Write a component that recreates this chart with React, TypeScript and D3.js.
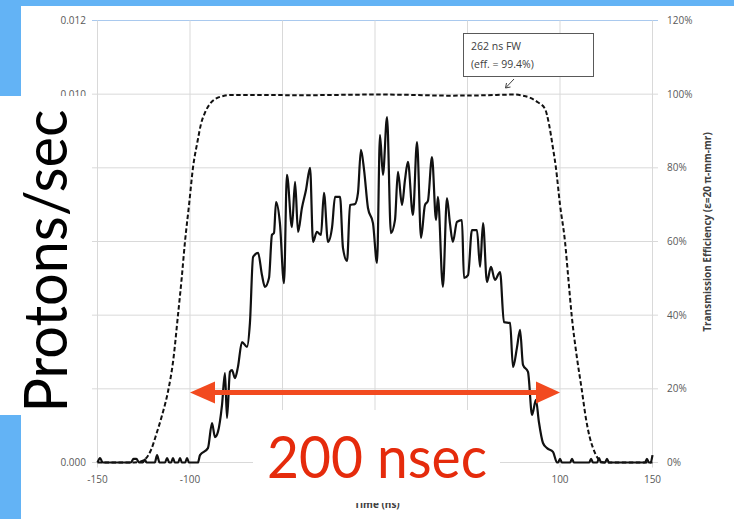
import React, { useEffect, useRef } from 'react';
import * as d3 from 'd3';

const leftTicks = [0, 0.002, 0.004, 0.006, 0.008, 0.01, 0.012];
const rightTicks = [0, 20, 40, 60, 80, 100, 120];
const timeTicks = [-150, -100, -50, 0, 50, 100, 150];
// tick labels that the slide's white boxes leave visible
const leftLabels = [0, 0.01, 0.012];
const timeLabels = [-150, -100, 100, 150];

// transmission efficiency in %, dashed curve
const efficiency: [number, number][] = [
  [-150, 0], [-130, 0], [-127, 0.2], [-124, 1], [-121, 3.5], [-118, 8], [-115, 13], [-112, 19],
  [-109, 28], [-106.5, 40], [-104.5, 50], [-102.7, 60], [-100.5, 70], [-98.4, 80], [-96, 87],
  [-94, 92], [-91.9, 95], [-89, 97.5], [-86, 98.8], [-82, 99.5], [-78, 99.8], [-60, 99.8],
  [-40, 99.7], [-20, 99.8], [0, 99.9], [20, 99.8], [40, 99.6], [60, 99.7], [75, 99.9], [80, 99.6],
  [84, 99], [88, 97.8], [91.9, 96], [94, 92], [96, 86], [97.8, 80], [100, 70], [102.7, 60],
  [104.5, 50], [106.3, 40], [109, 29], [111.7, 20], [114, 12], [116, 7], [117.8, 4], [120, 1.5],
  [122, 0.3], [124, 0], [150, 0],
];

// protons/sec signal, solid curve
const protons: [number, number][] = [
  [-150, 0], [-148.6, 0.00012], [-147.2, 0], [-132, 0], [-130.5, 0.0001], [-129, 0.0001], [-127.5, 0],
  [-125.5, 0], [-124.5, 0.00008], [-123.5, 0], [-119, 0], [-117.8, 0.0002], [-116.5, 0], [-113.5, 0],
  [-112.4, 0.00012], [-111.2, 0], [-110.2, 0], [-109.2, 0.00012], [-108.2, 0], [-106.4, 0],
  [-105.4, 0.00012], [-104.4, 0], [-102.6, 0], [-101.6, 0.00012], [-100.6, 0], [-95.7, 0],
  [-94.6, 0.0002], [-90.3, 0.00039], [-88.1, 0.00107], [-86.5, 0.00069], [-84.9, 0.00083],
  [-82.7, 0.00156], [-81.1, 0.00243], [-80.0, 0.00121], [-78.4, 0.00246], [-77.3, 0.00251],
  [-75.7, 0.00229], [-74.1, 0.00259], [-71.9, 0.00327], [-69.2, 0.00314], [-67.6, 0.00379],
  [-65.9, 0.00558], [-63.2, 0.00569], [-61.1, 0.00509], [-59.5, 0.00477], [-57.3, 0.00501],
  [-55.7, 0.00618], [-54.6, 0.00623], [-53.5, 0.00707], [-51.4, 0.0065], [-49.2, 0.00487],
  [-47.6, 0.00781], [-44.9, 0.00639], [-43.2, 0.00762], [-41.6, 0.00626], [-39.5, 0.00691],
  [-37.3, 0.0074], [-35.1, 0.008], [-33.5, 0.00599], [-31.4, 0.00626], [-29.2, 0.00618],
  [-27.6, 0.00732], [-25.4, 0.00599], [-23.2, 0.00639], [-21.6, 0.00721], [-18.9, 0.00721],
  [-17.3, 0.00582], [-15.1, 0.00547], [-13.5, 0.00699], [-10.8, 0.00702], [-9.2, 0.00732],
  [-7.6, 0.00849], [-5.9, 0.00794], [-3.8, 0.00691], [-1.1, 0.0065], [1.1, 0.00542], [2.7, 0.00889],
  [4.3, 0.00781], [6.5, 0.00938], [8.6, 0.00623], [10.8, 0.00658], [12.4, 0.00789], [14.6, 0.00699],
  [16.2, 0.00767], [17.8, 0.00816], [20.5, 0.00672], [22.7, 0.0087], [24.9, 0.0061], [27.0, 0.00699],
  [28.6, 0.0071], [30.8, 0.00829], [33.0, 0.00658], [34.0, 0.00721], [36.7, 0.00477], [38.9, 0.00718],
  [40.5, 0.0065], [42.1, 0.00599], [44.3, 0.00653], [47.0, 0.00658], [48.1, 0.00501], [50.3, 0.00509],
  [52.4, 0.00631], [55.1, 0.00631], [56.8, 0.00531], [58.4, 0.0065], [60.5, 0.0049], [62.7, 0.00531],
  [64.8, 0.00496], [67.6, 0.00517], [69.7, 0.00381], [73.0, 0.00379], [74.6, 0.00259], [76.8, 0.00314],
  [78.4, 0.0036], [80.0, 0.00265], [82.7, 0.00246], [84.9, 0.00129], [87.0, 0.0017], [88.6, 0.0011],
  [90.8, 0.00053], [93.0, 0.00039], [96.2, 0.00029], [98.4, 0], [99, 0], [100, 0.0001], [101, 0],
  [105.5, 0], [106.5, 0.0001], [107.5, 0], [115.8, 0], [116.8, 0.0001], [117.8, 0], [120.1, 0],
  [121.1, 0.00012], [122.1, 0], [124.4, 0], [125.4, 0.0001], [126.4, 0], [146, 0], [147, 0.0001],
  [148, 0], [149, 0], [150, 0.0002],
];

// the red "200 nsec" span marker
const spanStart = -100;
const spanEnd = 100;
const spanLevel = 0.0019;

const W = 734;
const H = 519;

const App: React.FC = () => {
  const svgRef = useRef<SVGSVGElement>(null);

  useEffect(() => {
    if (!svgRef.current) return;
    const svg = d3.select(svgRef.current);
    svg.selectAll('*').remove();

    const x = d3.scaleLinear().domain([-150, 150]).range([97.5, 652.5]);
    const y = d3.scaleLinear().domain([0, 0.012]).range([462.5, 20.5]);
    const yR = d3.scaleLinear().domain([0, 120]).range([462.5, 20.5]);

    const font = 'Open Sans, Liberation Sans, sans-serif';

    // slide background
    svg.append('rect').attr('width', W).attr('height', H).attr('fill', '#63b3f5');
    svg.append('rect').attr('x', 21).attr('y', 6).attr('width', W - 21).attr('height', H - 6).attr('fill', '#fff');

    // gridlines
    const grid = svg.append('g').attr('stroke-width', 1);
    grid.selectAll('line.h')
      .data(leftTicks)
      .join('line')
      .attr('x1', 92).attr('x2', 658)
      .attr('y1', d => y(d)).attr('y2', d => y(d))
      .attr('stroke', d => (d === 0.012 ? '#a9c9ee' : '#d9d9d9'));
    grid.selectAll('line.v')
      .data(timeTicks)
      .join('line')
      .attr('x1', d => x(d)).attr('x2', d => x(d))
      .attr('y1', y(0.012)).attr('y2', y(0) + 5)
      .attr('stroke', '#d9d9d9');

    // axis labels
    svg.append('g').selectAll('text')
      .data(leftLabels)
      .join('text')
      .attr('x', 86).attr('y', d => y(d) + 3.5)
      .attr('text-anchor', 'end')
      .attr('font-family', font).attr('font-size', 10).attr('fill', '#595959')
      .text(d => d3.format('.3f')(d));
    svg.append('g').selectAll('text')
      .data(rightTicks)
      .join('text')
      .attr('x', 667).attr('y', d => yR(d) + 3.5)
      .attr('font-family', font).attr('font-size', 10).attr('fill', '#595959')
      .text(d => `${d}%`);
    svg.append('g').selectAll('text')
      .data(timeLabels)
      .join('text')
      .attr('x', d => x(d)).attr('y', 483)
      .attr('text-anchor', 'middle')
      .attr('font-family', font).attr('font-size', 10).attr('fill', '#595959')
      .text(d => d);

    svg.append('text')
      .attr('transform', 'translate(711,232) rotate(-90)')
      .attr('text-anchor', 'middle')
      .attr('font-family', font).attr('font-size', 10).attr('font-weight', 'bold').attr('fill', '#404040')
      .text('Transmission Efficiency (\u03b5=20 \u03c0-mm-mr)');

    svg.append('text')
      .attr('x', 377).attr('y', 508)
      .attr('text-anchor', 'middle')
      .attr('font-family', font).attr('font-size', 10).attr('font-weight', 'bold').attr('fill', '#404040')
      .text('Time (ns)');

    // curves
    const effLine = d3.line<[number, number]>()
      .x(d => x(d[0])).y(d => yR(d[1]))
      .curve(d3.curveMonotoneX);
    svg.append('path')
      .datum(efficiency)
      .attr('d', effLine)
      .attr('fill', 'none').attr('stroke', '#111').attr('stroke-width', 2)
      .attr('stroke-dasharray', '4.5,2.5');

    const protonLine = d3.line<[number, number]>()
      .x(d => x(d[0])).y(d => y(d[1]))
      .curve(d3.curveMonotoneX);
    svg.append('path')
      .datum(protons)
      .attr('d', protonLine)
      .attr('fill', 'none').attr('stroke', '#111').attr('stroke-width', 2.2)
      .attr('stroke-linejoin', 'round');

    // annotation callout
    const note = svg.append('g');
    note.append('rect')
      .attr('x', 463.5).attr('y', 33.5).attr('width', 130).attr('height', 43)
      .attr('fill', '#fff').attr('stroke', '#595959').attr('stroke-width', 1);
    note.append('text')
      .attr('x', 471).attr('y', 50)
      .attr('font-family', font).attr('font-size', 10.5).attr('fill', '#404040')
      .text('262 ns FW');
    note.append('text')
      .attr('x', 471).attr('y', 68)
      .attr('font-family', font).attr('font-size', 10.5).attr('fill', '#404040')
      .text('(eff. = 99.4%)');
    note.append('path')
      .attr('d', 'M514,79 L505.5,88 M505.5,88 L506.5,83 M505.5,88 L510.5,87')
      .attr('fill', 'none').attr('stroke', '#404040').attr('stroke-width', 1);

    // white cover boxes from the slide
    svg.append('rect').attr('x', 0).attr('y', 96).attr('width', 91).attr('height', 319).attr('fill', '#fff');
    svg.append('rect').attr('x', 253).attr('y', 410).attr('width', 247).attr('height', 93).attr('fill', '#fff');

    svg.append('text')
      .attr('transform', 'translate(67,261) rotate(-90)')
      .attr('text-anchor', 'middle')
      .attr('font-family', 'Lato, Open Sans, sans-serif').attr('font-size', 60).attr('fill', '#000')
      .attr('textLength', 303).attr('lengthAdjust', 'spacingAndGlyphs')
      .text('Protons/sec');

    svg.append('text')
      .attr('x', 377).attr('y', 478)
      .attr('text-anchor', 'middle')
      .attr('font-family', 'Lato, Open Sans, sans-serif').attr('font-size', 58).attr('fill', '#e52b0c')
      .attr('textLength', 220).attr('lengthAdjust', 'spacingAndGlyphs')
      .text('200 nsec');

    // red double arrow
    const ax0 = x(spanStart);
    const ax1 = x(spanEnd);
    const ay = y(spanLevel);
    const red = '#f24a1f';
    svg.append('line')
      .attr('x1', ax0 + 20).attr('x2', ax1 - 20).attr('y1', ay).attr('y2', ay)
      .attr('stroke', red).attr('stroke-width', 5);
    svg.append('path')
      .attr('d', `M${ax0},${ay} L${ax0 + 25},${ay - 11} L${ax0 + 25},${ay + 11} Z`)
      .attr('fill', red);
    svg.append('path')
      .attr('d', `M${ax1},${ay} L${ax1 - 24},${ay - 11} L${ax1 - 24},${ay + 11} Z`)
      .attr('fill', red);
  }, []);

  return (
    <div style={{ position: 'fixed', left: 0, top: 0 }}>
      <svg ref={svgRef} width={W} height={H} style={{ display: 'block' }}></svg>
    </div>
  );
};

export default App;
